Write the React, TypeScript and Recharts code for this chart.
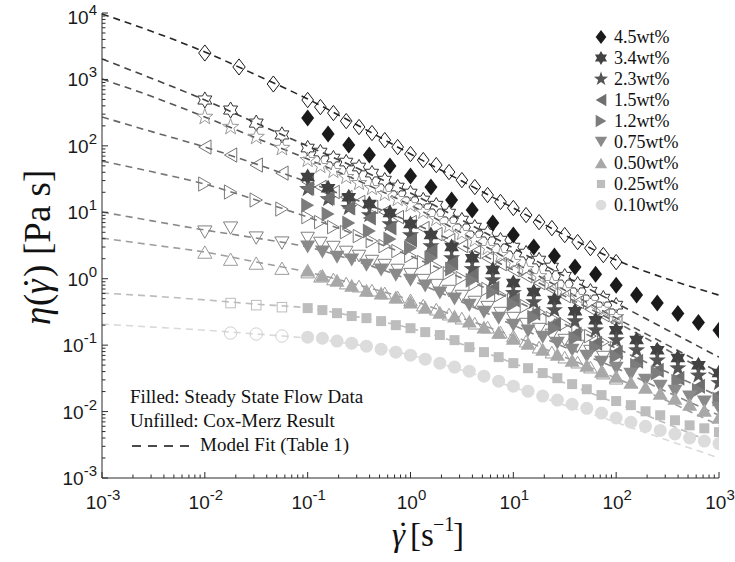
import React from 'react';
import { ComposedChart, XAxis, YAxis, Scatter, Line, Legend, Customized } from 'recharts';

// ---------- axis ticks ----------
const X_MAJOR = [0.001, 0.01, 0.1, 1, 10, 100, 1000];
const Y_MAJOR = [0.001, 0.01, 0.1, 1, 10, 100, 1000, 10000];
const MINOR_STEPS = [2, 3, 4, 5, 6, 7, 8, 9];

// ---------- shear-rate grids (s^-1) ----------
const X_FIT = [0.001, 0.00316, 0.01, 0.0316, 0.1, 0.316, 1, 3.16, 10, 31.6, 100, 316, 1000];
const X_LOW_3 = [0.01, 0.0215, 0.0464];
const X_LOW_4 = [0.01, 0.0178, 0.0316, 0.0562];
const X_LOW_SQ = [0.0178, 0.0316, 0.0562];
const X_OPEN = [0.1, 0.133, 0.178, 0.237, 0.316, 0.422, 0.562, 0.75, 1, 1.33, 1.78, 2.37, 3.16, 4.22, 5.62, 7.5, 10, 13.3, 17.8, 23.7, 31.6, 42.2, 56.2, 75, 100];
const X_F5 = [0.1, 0.158, 0.251, 0.398, 0.631, 1, 1.58, 2.51, 3.98, 6.31, 10, 15.8, 25.1, 39.8, 63.1, 100, 158, 251, 398, 631, 1000];
const X_F7 = [0.1, 0.139, 0.193, 0.268, 0.373, 0.518, 0.72, 1, 1.39, 1.93, 2.68, 3.73, 5.18, 7.2, 10, 13.9, 19.3, 26.8, 37.3, 51.8, 72, 100, 139, 193, 268, 373, 518, 720, 1000];

// ---------- 4.5 wt% ----------
const FIT_45 = [9660, 5180, 2590, 1165, 507, 199, 75.4, 29.5, 11.6, 4.54, 1.91, 0.99, 0.566];
const LOW_45 = [2500, 1540, 853];
const OPEN_45 = [490, 384, 312, 236, 192, 156, 122, 95.9, 75.3, 61.1, 51.4, 40.3, 30.5, 24.0, 18.2, 14.3, 11.6, 9.08, 7.11, 5.78, 4.54, 3.56, 2.89, 2.27, 1.78];
const FILLED_45 = [262, 151, 103, 72.6, 49.6, 35.1, 24.0, 15.3, 10.8, 6.88, 4.54, 2.99, 2.19, 1.5, 1.17, 0.8, 0.57, 0.43, 0.3, 0.22, 0.168];

// ---------- 3.4 wt% ----------
const FIT_34 = [2030, 1014, 490, 220, 99.3, 44.7, 19.5, 7.63, 2.89, 1.09, 0.43, 0.168, 0.066];
const LOW_34 = [490, 346, 220, 146];
const OPEN_34 = [92.7, 80.7, 65.5, 57.0, 48.0, 38.9, 30.5, 24.0, 19.5, 15.3, 12.8, 9.72, 7.63, 5.98, 4.86, 3.81, 2.99, 2.43, 1.91, 1.5, 1.09, 0.83, 0.65, 0.51, 0.4];
const FILLED_34 = [33.9, 23.1, 16.9, 13.3, 9.72, 6.64, 4.54, 2.99, 2.04, 1.35, 0.86, 0.63, 0.48, 0.325, 0.238, 0.168, 0.119, 0.084, 0.064, 0.05, 0.038];

// ---------- 2.3 wt% ----------
const FIT_23 = [1014, 543, 272, 131, 63.2, 29.5, 12.8, 4.86, 1.78, 0.673, 0.255, 0.1, 0.039];
const LOW_23 = [272, 192, 136, 92.7];
const OPEN_23 = [61.1, 49.6, 41.7, 33.9, 27.5, 23.1, 18.8, 15.8, 12.8, 10.1, 7.9, 6.2, 4.86, 3.81, 2.89, 2.27, 1.78, 1.4, 1.09, 0.86, 0.67, 0.53, 0.43, 0.34, 0.264];
const FILLED_23 = [22.4, 15.8, 11.6, 9.08, 6.64, 4.54, 3.1, 2.04, 1.4, 0.95, 0.61, 0.445, 0.337, 0.23, 0.168, 0.119, 0.084, 0.059, 0.045, 0.035, 0.027];

// ---------- 1.5 wt% ----------
const FIT_15 = [272, 161, 95.9, 53.2, 28.5, 14.8, 7.11, 3.21, 1.35, 0.547, 0.222, 0.084, 0.032];
const LOW_15 = [95.9, 72.7, 51.4, 38.9];
const OPEN_15 = [28.5, 24.0, 20.2, 16.9, 14.3, 12.0, 10.1, 8.47, 7.11, 5.78, 4.7, 3.81, 3.1, 2.52, 2.04, 1.66, 1.35, 1.09, 0.86, 0.7, 0.547, 0.445, 0.348, 0.283, 0.222];
const FILLED_15 = [23.1, 16.4, 11.6, 8.18, 5.78, 3.81, 2.61, 1.72, 1.13, 0.72, 0.48, 0.303, 0.207, 0.147, 0.107, 0.0785, 0.0574, 0.042, 0.0318, 0.0241, 0.0183];

// ---------- 1.2 wt% ----------
const FIT_12 = [59.0, 40.3, 26.6, 15.3, 8.47, 4.38, 2.19, 1.02, 0.48, 0.207, 0.09, 0.039, 0.017];
const LOW_12 = [26.6, 20.2, 15.3, 11.2];
const OPEN_12 = [8.47, 7.11, 5.98, 5.03, 4.38, 3.68, 3.1, 2.61, 2.19, 1.78, 1.5, 1.21, 1.02, 0.83, 0.7, 0.566, 0.48, 0.387, 0.314, 0.255, 0.207, 0.168, 0.137, 0.111, 0.09];
const FILLED_12 = [12.8, 9.39, 6.88, 5.21, 3.95, 2.89, 2.04, 1.4, 0.95, 0.63, 0.414, 0.264, 0.18, 0.127, 0.0933, 0.0683, 0.05, 0.038, 0.0287, 0.021, 0.0154];

// ---------- 0.75 wt% ----------
const FIT_075 = [10.1, 7.37, 5.4, 4.09, 2.99, 1.78, 0.95, 0.445, 0.2, 0.0933, 0.045, 0.0196, 0.0088];
const LOW_075 = [5.03, 5.78, 4.09, 3.44];
const OPEN_075 = [4.09, 3.44, 2.99, 2.52, 2.19, 1.84, 1.6, 1.35, 1.17, 0.95, 0.8, 0.65, 0.547, 0.445, 0.373, 0.303, 0.255, 0.207, 0.174, 0.142, 0.119, 0.0966, 0.0812, 0.066, 0.0555];
const FILLED_075 = [2.99, 2.52, 2.11, 1.91, 1.6, 1.35, 1.13, 0.95, 0.774, 0.61, 0.493, 0.4, 0.314, 0.255, 0.2, 0.163, 0.132, 0.107, 0.084, 0.0683, 0.0555, 0.045, 0.0366, 0.0297, 0.0241, 0.0203, 0.0165, 0.0139, 0.0112];

// ---------- 0.50 wt% ----------
const FIT_050 = [4.09, 3.21, 2.52, 1.78, 1.26, 0.8, 0.48, 0.255, 0.137, 0.066, 0.0318, 0.0144, 0.0062];
const LOW_050 = [2.52, 1.97, 1.72, 1.44];
const OPEN_050 = [1.26, 1.09, 0.99, 0.86, 0.774, 0.673, 0.61, 0.53, 0.48, 0.4, 0.348, 0.293, 0.255, 0.214, 0.187, 0.157, 0.137, 0.115, 0.0933, 0.0785, 0.066, 0.0555, 0.0467, 0.038, 0.0318];
const FILLED_050 = [1.35, 1.13, 0.95, 0.8, 0.673, 0.61, 0.53, 0.445, 0.373, 0.314, 0.274, 0.23, 0.187, 0.157, 0.127, 0.107, 0.0871, 0.0731, 0.059, 0.05, 0.0406, 0.0341, 0.0277, 0.0233, 0.0189, 0.0159, 0.0129, 0.0105, 0.0082];

// ---------- 0.25 wt% ----------
const FIT_025 = [0.607, 0.547, 0.48, 0.414, 0.361, 0.264, 0.18, 0.1035, 0.0536, 0.027, 0.0134, 0.0065, 0.0031];
const LOW_025 = [0.43, 0.4, 0.373];
const FILLED_025 = [0.361, 0.337, 0.303, 0.274, 0.255, 0.23, 0.2, 0.18, 0.157, 0.142, 0.119, 0.0933, 0.0785, 0.066, 0.0536, 0.045, 0.038, 0.0318, 0.0259, 0.0217, 0.0177, 0.0144, 0.0125, 0.0101, 0.0088, 0.0074, 0.0062, 0.0056, 0.0049];

// ---------- 0.10 wt% ----------
const FIT_010 = [0.207, 0.187, 0.168, 0.147, 0.127, 0.1, 0.0707, 0.042, 0.0233, 0.0125, 0.0069, 0.0037, 0.002];
const LOW_010 = [0.152, 0.147, 0.137];
const FILLED_010 = [0.132, 0.127, 0.115, 0.107, 0.0966, 0.0871, 0.0785, 0.0707, 0.0615, 0.0536, 0.0467, 0.0406, 0.0341, 0.0287, 0.0241, 0.0203, 0.0171, 0.0149, 0.0129, 0.0112, 0.0095, 0.008, 0.0069, 0.006, 0.0052, 0.0046, 0.004, 0.0036, 0.0033];

const zip = (xs: number[], ys: number[]) => ys.map((y, i) => ({ x: xs[i], y }));

const SERIES = [
  { name: '4.5wt%', kind: 'diamond', color: '#1a1a1a', open: '#1a1a1a', line: '#262626', fit: FIT_45, lowX: X_LOW_3, low: LOW_45, openY: OPEN_45, fx: X_F5, filled: FILLED_45 },
  { name: '3.4wt%', kind: 'hexagram', color: '#424242', open: '#333333', line: '#444444', fit: FIT_34, lowX: X_LOW_4, low: LOW_34, openY: OPEN_34, fx: X_F5, filled: FILLED_34 },
  { name: '2.3wt%', kind: 'pentagram', color: '#555555', open: '#9a9a9a', line: '#555555', fit: FIT_23, lowX: X_LOW_4, low: LOW_23, openY: OPEN_23, fx: X_F5, filled: FILLED_23 },
  { name: '1.5wt%', kind: 'left', color: '#6f6f6f', open: '#727272', line: '#666666', fit: FIT_15, lowX: X_LOW_4, low: LOW_15, openY: OPEN_15, fx: X_F5, filled: FILLED_15 },
  { name: '1.2wt%', kind: 'right', color: '#7c7c7c', open: '#7a7a7a', line: '#777777', fit: FIT_12, lowX: X_LOW_4, low: LOW_12, openY: OPEN_12, fx: X_F5, filled: FILLED_12 },
  { name: '0.75wt%', kind: 'down', color: '#8a8a8a', open: '#808080', line: '#888888', fit: FIT_075, lowX: X_LOW_4, low: LOW_075, openY: OPEN_075, fx: X_F7, filled: FILLED_075 },
  { name: '0.50wt%', kind: 'up', color: '#a8a8a8', open: '#9c9c9c', line: '#9d9d9d', fit: FIT_050, lowX: X_LOW_4, low: LOW_050, openY: OPEN_050, fx: X_F7, filled: FILLED_050 },
  { name: '0.25wt%', kind: 'square', color: '#bdbdbd', open: '#bdbdbd', line: '#bdbdbd', fit: FIT_025, lowX: X_LOW_SQ, low: LOW_025, openY: null, fx: X_F7, filled: FILLED_025 },
  { name: '0.10wt%', kind: 'circle', color: '#dcdcdc', open: '#d0d0d0', line: '#dadada', fit: FIT_010, lowX: X_LOW_SQ, low: LOW_010, openY: null, fx: X_F7, filled: FILLED_010 },
];

const withMinor = (majors: number[]) =>
  [...majors, ...majors.slice(0, -1).flatMap((m) => MINOR_STEPS.map((k) => +(m * k).toPrecision(6)))].sort((a, b) => a - b);
const X_TICKS = withMinor(X_MAJOR);
const Y_TICKS = withMinor(Y_MAJOR);

const SANS = '"Liberation Sans", Arial, Helvetica, sans-serif';
const SERIF = '"Liberation Serif", "Times New Roman", serif';
const AXIS = '#2b2b2b';

function star(cx: number, cy: number, R: number, r: number, n: number) {
  let d = '';
  for (let i = 0; i < 2 * n; i++) {
    const a = -Math.PI / 2 + (i * Math.PI) / n;
    const rad = i % 2 === 0 ? R : r;
    d += (i === 0 ? 'M' : 'L') + (cx + rad * Math.cos(a)).toFixed(2) + ',' + (cy + rad * Math.sin(a)).toFixed(2);
  }
  return d + 'Z';
}

function Marker({ kind, cx, cy, k, fill, stroke, sw }: any) {
  const c = { fill, stroke, strokeWidth: sw, strokeLinejoin: 'miter' as const };
  switch (kind) {
    case 'diamond': {
      const w = 6.5 * k, h = 8.5 * k;
      return <path d={`M${cx},${cy - h}L${cx + w},${cy}L${cx},${cy + h}L${cx - w},${cy}Z`} {...c} />;
    }
    case 'hexagram': {
      const R = 8.5 * k;
      return <path d={star(cx, cy, R, R / Math.sqrt(3), 6)} {...c} />;
    }
    case 'pentagram': {
      const R = 9 * k;
      return <path d={star(cx, cy, R, R * 0.4, 5)} {...c} />;
    }
    case 'left': {
      const w = 6.5 * k, h = 7.5 * k;
      return <path d={`M${cx - w},${cy}L${cx + w},${cy - h}L${cx + w},${cy + h}Z`} {...c} />;
    }
    case 'right': {
      const w = 6.5 * k, h = 7.5 * k;
      return <path d={`M${cx + w},${cy}L${cx - w},${cy - h}L${cx - w},${cy + h}Z`} {...c} />;
    }
    case 'down': {
      const w = 7.5 * k, h = 6.5 * k;
      return <path d={`M${cx - w},${cy - h}L${cx + w},${cy - h}L${cx},${cy + h}Z`} {...c} />;
    }
    case 'up': {
      const w = 7.5 * k, h = 6.5 * k;
      return <path d={`M${cx - w},${cy + h}L${cx + w},${cy + h}L${cx},${cy - h}Z`} {...c} />;
    }
    case 'square': {
      const s = 5 * k;
      return <rect x={cx - s} y={cy - s} width={2 * s} height={2 * s} {...c} />;
    }
    default:
      return <circle cx={cx} cy={cy} r={6.5 * k} {...c} />;
  }
}

const isMajor = (v: number) => {
  const lg = Math.log10(v);
  return Math.abs(lg - Math.round(lg)) < 1e-6;
};

const makeTick = (side: string) => (props: any) => {
  const { x, y, payload } = props;
  const v = payload.value;
  const major = isMajor(v);
  const L = major ? 6 : 3.5;
  const e = Math.round(Math.log10(v));
  const exp = String(e);
  let x2 = x, y2 = y;
  if (side === 'bottom') y2 = y - L;
  if (side === 'top') y2 = y + L;
  if (side === 'left') x2 = x + L;
  if (side === 'right') x2 = x - L;
  let label = null;
  if (major && side === 'bottom') {
    label = (
      <text x={x + 1} y={y + 31} textAnchor="middle" fontFamily={SANS} fontSize={19} fill="#1a1a1a">
        10<tspan dy={-9} fontSize={15}>{exp}</tspan>
      </text>
    );
  }
  if (major && side === 'left') {
    const shift = e === 4 ? 4 : 0;
    label = (
      <text x={x - 5} y={y + 7 + shift} textAnchor="end" fontFamily={SANS} fontSize={19} fill="#1a1a1a">
        10<tspan dy={-9} fontSize={15}>{exp}</tspan>
      </text>
    );
  }
  return (
    <g>
      <line x1={x} y1={y} x2={x2} y2={y2} stroke={AXIS} strokeWidth={1} />
      {label}
    </g>
  );
};

const LegendBox = () => (
  <svg width={140} height={195} style={{ display: 'block' }}>
    {SERIES.map((s, i) => {
      const cy = 13 + i * 21;
      return (
        <g key={s.name}>
          <Marker kind={s.kind} cx={11} cy={cy} k={0.82} fill={s.color} stroke="none" sw={0} />
          <text x={24} y={cy + 6} fontFamily={SERIF} fontSize={18} fill="#111">
            {s.name}
          </text>
        </g>
      );
    })}
  </svg>
);

const serifStyle = { fontFamily: SERIF };

const Annotations = () => (
  <g>
    <text x={130} y={403} fontSize={19} style={serifStyle} fill="#111">Filled: Steady State Flow Data</text>
    <text x={130} y={427} fontSize={19} style={serifStyle} fill="#111">Unfilled: Cox-Merz Result</text>
    <line x1={132} x2={196} y1={446} y2={446} stroke="#111" strokeWidth={1.3} strokeDasharray="9 7" />
    <text x={200} y={451} fontSize={19} style={serifStyle} fill="#111">Model Fit (Table 1)</text>

    {/* x-axis title: shear rate */}
    <text x={392} y={546} fontSize={33} fontStyle="italic" style={serifStyle} fill="#111">γ</text>
    <text x={403} y={545} fontSize={33} textAnchor="middle" style={serifStyle} fill="#111">˙</text>
    <text x={410} y={546} fontSize={33} style={serifStyle} fill="#111">[s</text>
    <text x={433} y={531} fontSize={20} style={serifStyle} fill="#111">−1</text>
    <text x={453} y={546} fontSize={33} style={serifStyle} fill="#111">]</text>

    {/* y-axis title: viscosity */}
    <g transform="translate(50,245) rotate(-90)">
      <text x={-80} y={0} fontSize={37} fontStyle="italic" style={serifStyle} fill="#111">η</text>
      <text x={-61} y={0} fontSize={37} style={serifStyle} fill="#111">(</text>
      <text x={-49} y={0} fontSize={37} fontStyle="italic" style={serifStyle} fill="#111">γ</text>
      <text x={-38} y={-1} fontSize={37} textAnchor="middle" style={serifStyle} fill="#111">˙</text>
      <text x={-32} y={0} fontSize={37} style={serifStyle} fill="#111">)</text>
      <text x={-10} y={0} fontSize={37} style={serifStyle} fill="#111">[Pa s]</text>
    </g>
  </g>
);

const axisCommon = {
  type: 'number' as const,
  scale: 'log' as const,
  allowDataOverflow: true,
  interval: 0 as const,
  tickSize: 0,
  tickMargin: 0,
  tickLine: false,
  axisLine: { stroke: AXIS, strokeWidth: 1 },
};

export default function App() {
  return (
    <div style={{ position: 'absolute', left: 0, top: 0, background: '#fff' }}>
      <ComposedChart width={735} height={562} margin={{ top: 13, right: 16, bottom: 0, left: 0 }}>
        <XAxis xAxisId="b" dataKey="x" {...axisCommon} domain={[0.001, 1000]} ticks={X_TICKS} height={84} tick={makeTick('bottom')} />
        <XAxis xAxisId="t" dataKey="x" orientation="top" {...axisCommon} domain={[0.001, 1000]} ticks={X_TICKS} height={0} tick={makeTick('top')} />
        <YAxis yAxisId="l" dataKey="y" {...axisCommon} domain={[0.001, 10000]} ticks={Y_TICKS} width={102} tick={makeTick('left')} />
        <YAxis yAxisId="r" dataKey="y" orientation="right" {...axisCommon} domain={[0.001, 10000]} ticks={Y_TICKS} width={0} tick={makeTick('right')} />

        {SERIES.map((s) => (
          <Line
            key={'fit' + s.name}
            xAxisId="b"
            yAxisId="l"
            data={zip(X_FIT, s.fit)}
            dataKey="y"
            type="monotone"
            stroke={s.line}
            strokeWidth={1.6}
            strokeDasharray="7 5"
            dot={false}
            activeDot={false}
            legendType="none"
            isAnimationActive={false}
          />
        ))}

        {SERIES.map((s) => (
          <Scatter
            key={'low' + s.name}
            xAxisId="b"
            yAxisId="l"
            data={zip(s.lowX, s.low)}
            dataKey="y"
            legendType="none"
            isAnimationActive={false}
            shape={(p: any) => <Marker kind={s.kind} cx={p.cx} cy={p.cy} k={0.95} fill="none" stroke={s.open} sw={1} />}
          />
        ))}

        {SERIES.filter((s) => s.openY).map((s) => (
          <Scatter
            key={'open' + s.name}
            xAxisId="b"
            yAxisId="l"
            data={zip(X_OPEN, s.openY as number[])}
            dataKey="y"
            legendType="none"
            isAnimationActive={false}
            shape={(p: any) => <Marker kind={s.kind} cx={p.cx} cy={p.cy} k={0.9} fill="none" stroke={s.open} sw={1} />}
          />
        ))}

        {SERIES.map((s) => (
          <Scatter
            key={'filled' + s.name}
            name={s.name}
            xAxisId="b"
            yAxisId="l"
            data={zip(s.fx, s.filled)}
            dataKey="y"
            isAnimationActive={false}
            shape={(p: any) => <Marker kind={s.kind} cx={p.cx} cy={p.cy} k={1} fill={s.color} stroke="none" sw={0} />}
          />
        ))}

        <Legend
          content={LegendBox}
          layout="vertical"
          align="center"
          verticalAlign="middle"
          wrapperStyle={{ position: 'absolute', top: 24, left: 590, width: 140, height: 195 }}
        />
        <Customized component={Annotations} />
      </ComposedChart>
    </div>
  );
}
